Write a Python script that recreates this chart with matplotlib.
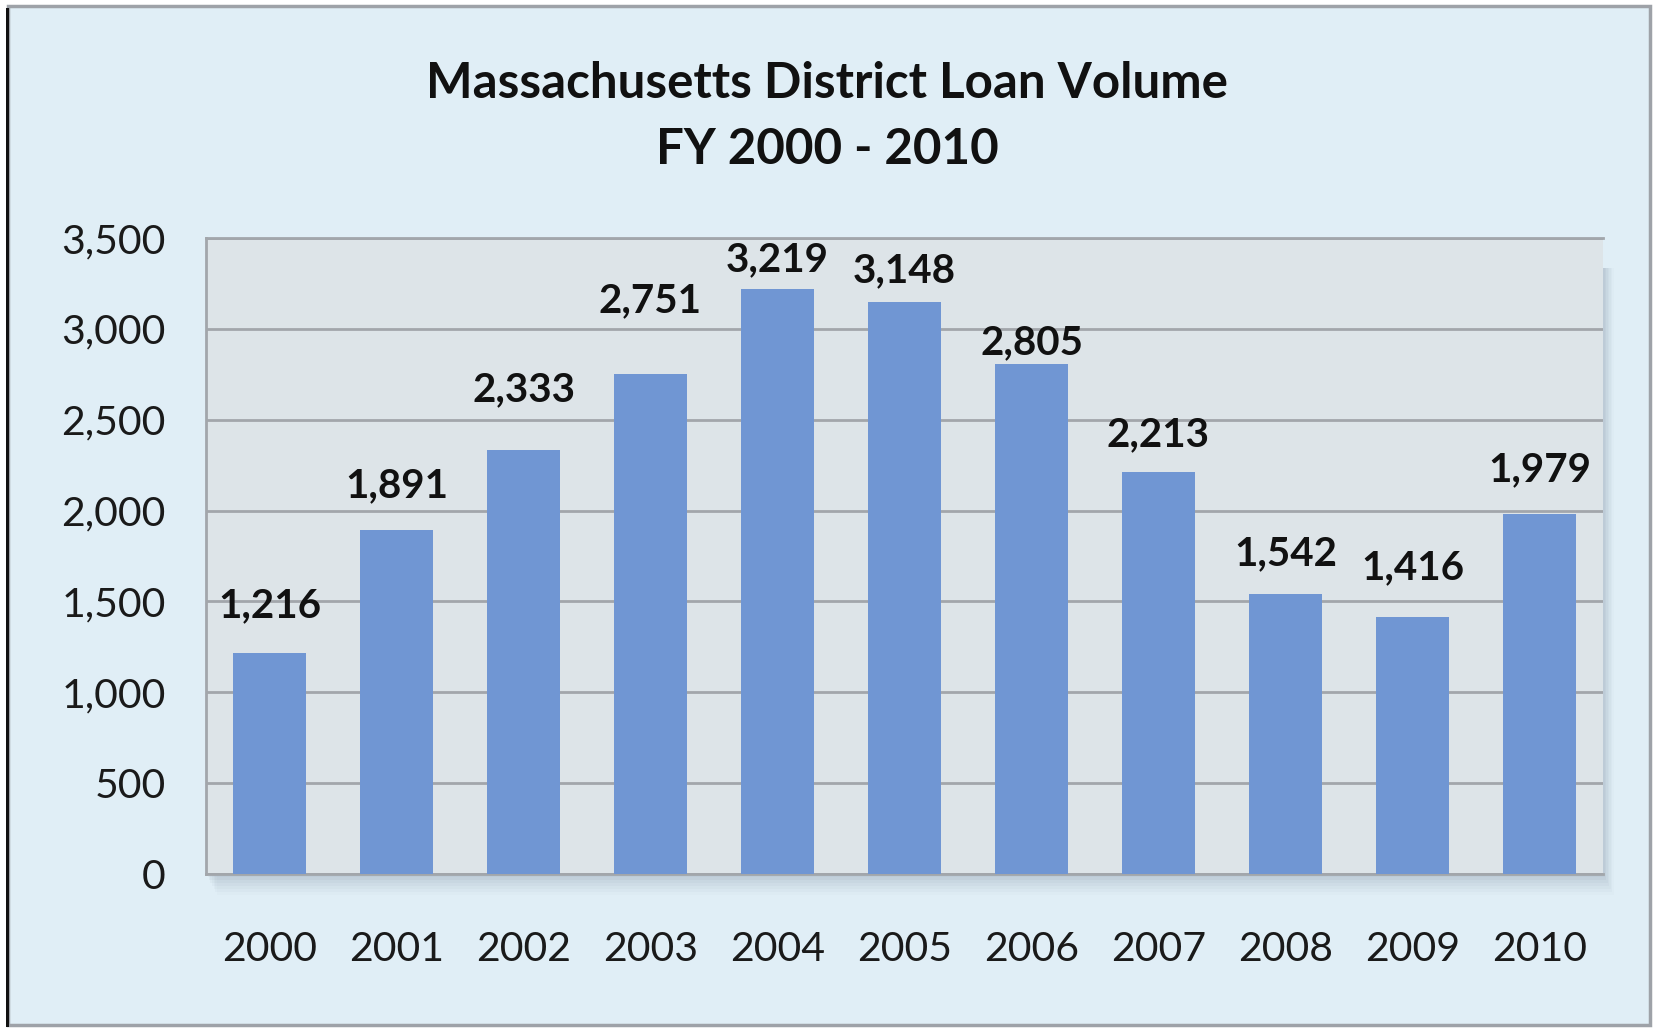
import matplotlib
matplotlib.use("Agg")
import matplotlib.pyplot as plt
from matplotlib.patches import Rectangle
from matplotlib.ticker import FuncFormatter, MultipleLocator

years = ["2000", "2001", "2002", "2003", "2004", "2005", "2006", "2007", "2008", "2009", "2010"]
loans = [1216, 1891, 2333, 2751, 3219, 3148, 2805, 2213, 1542, 1416, 1979]
title_lines = ["Massachusetts District Loan Volume", "FY 2000 - 2010"]

# manual vertical nudges of the data labels (pixels above bar top), as placed in the original chart
label_dy = [36, 33, 49, 62, 18, 20, 10, 26, 29, 37, 33]

W, H = 1653, 1029
DPI = 100
plt.rcParams['font.family'] = ['Lato', 'DejaVu Sans']

fig = plt.figure(figsize=(W / DPI, H / DPI), dpi=DPI)
fig.patch.set_facecolor("white")

def fx(x):
    return x / W

def fy(y):
    return 1 - y / H

# outer chart frame
fig.patches.append(Rectangle((fx(8), fy(1025)), fx(1650) - fx(8), fy(6) - fy(1025),
                             transform=fig.transFigure, facecolor="#E0EEF6",
                             edgecolor="#9EA2A8", linewidth=2.5, zorder=0))
fig.patches.append(Rectangle((fx(6), fy(1027)), fx(3), fy(8) - fy(1027),
                             transform=fig.transFigure, facecolor="#111111",
                             edgecolor="none", zorder=1))

# plot-area shadow
L, T, R, B = 206, 238, 1603, 874
for i, a in enumerate([0.05, 0.05, 0.045, 0.04, 0.035, 0.03, 0.02]):
    off = 3 + i * 3
    fig.patches.append(Rectangle((fx(L + off * 0.5), fy(B + off)), fx(R + off * 0.5) - fx(L + off * 0.5),
                                 fy(T + 30) - fy(B + off), transform=fig.transFigure,
                                 facecolor="#5A6A80", edgecolor="none", alpha=a, zorder=1))

ax = fig.add_axes([fx(L), fy(B), fx(R) - fx(L), fy(T) - fy(B)])
ax.set_facecolor("#DDE4E8")
ax.set_zorder(2)

x = list(range(len(years)))
ax.bar(x, loans, width=0.567, color="#7096D3", zorder=3)
ax.set_xlim(-0.5, len(years) - 0.5)
ax.set_ylim(0, 3500)
ax.yaxis.set_major_locator(MultipleLocator(500))
ax.yaxis.set_major_formatter(FuncFormatter(lambda v, p: f"{int(v):,}"))
ax.grid(axis="y", color="#A2A6AB", linewidth=2, zorder=1)
ax.set_axisbelow(True)
ax.set_xticks(x)
ax.set_xticklabels(years)

ax.spines["right"].set_visible(False)
for s in ["left", "top", "bottom"]:
    ax.spines[s].set_color("#A2A6AB")
    ax.spines[s].set_linewidth(2)

ax.tick_params(axis="both", length=0, labelsize=29.5, colors="#1a1a1a")
ax.tick_params(axis="x", pad=41)
ax.tick_params(axis="y", pad=29)

for xi, v, dy in zip(x, loans, label_dy):
    ax.annotate(f"{v:,}", (xi, v), xytext=(0, dy), textcoords="offset pixels",
                ha="center", va="baseline", fontsize=29, fontweight="bold",
                color="#111111", zorder=5)

fig.text(fx(827), fy(83), title_lines[0], ha="center", va="center",
         fontsize=35.5, fontweight="bold", color="#111111")
fig.text(fx(827), fy(150), title_lines[1], ha="center", va="center",
         fontsize=35.5, fontweight="bold", color="#111111")

fig.savefig("out.png", dpi=DPI, facecolor=fig.get_facecolor())
